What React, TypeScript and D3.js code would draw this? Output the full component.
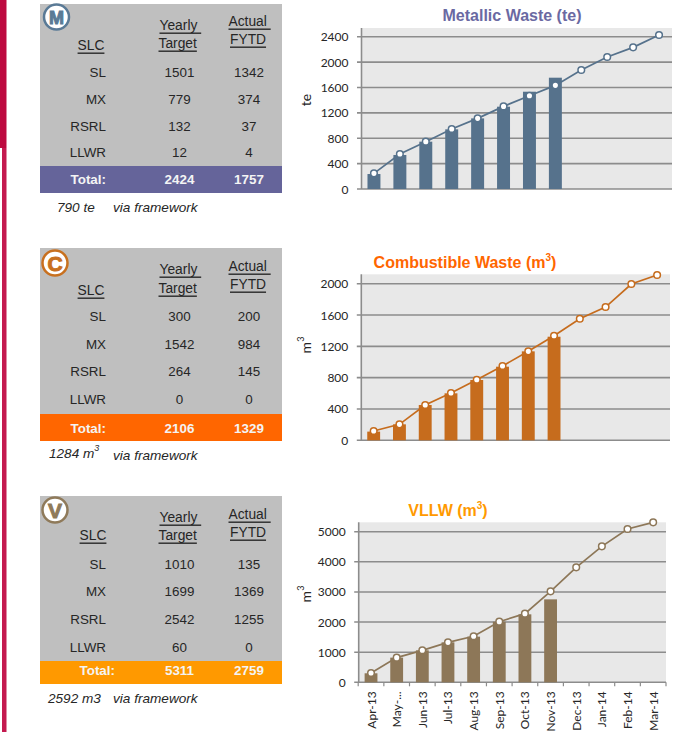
import React from "react";
import * as d3 from "d3";

const months = ["Apr-13","May-...","Jun-13","Jul-13","Aug-13","Sep-13","Oct-13","Nov-13","Dec-13","Jan-14","Feb-14","Mar-14"];
const slcNames = ["SL","MX","RSRL","LLWR"];

const metalTarget = [1501,779,132,12];
const metalActual = [1342,374,37,4];
const metalTotals = [2424,1757];
const metalBars = [236,536,746,940,1113,1297,1533,1754];
const metalLine = [247,551,746,945,1113,1302,1470,1633,1875,2080,2232,2426];
const metalTicks = [0,400,800,1200,1600,2000,2400];

const combTarget = [300,1542,264,0];
const combActual = [200,984,145,0];
const combTotals = [2106,1329];
const combBars = [111,204,451,600,770,940,1136,1323];
const combLine = [119,204,451,604,774,949,1136,1336,1553,1702,1996,2111];
const combTicks = [0,400,800,1200,1600,2000];

const vllwTarget = [1010,1699,2542,60];
const vllwActual = [135,1369,1255,0];
const vllwTotals = [5311,2759];
const vllwBars = [299,819,1062,1327,1515,2013,2257,2754];
const vllwLine = [310,819,1062,1327,1527,2013,2279,3020,3816,4513,5088,5310];
const vllwTicks = [0,1000,2000,3000,4000,5000];

const SANS = "'Liberation Sans', Arial, sans-serif";
const AXIS = "Lato, 'Noto Sans', sans-serif";
const TXT = "#262626";

type Tbl = {
  letter: string; iconColor: string; icon: [number, number];
  top: number; bottom: number; totalTop: number; totalColor: string;
  rowY: number[]; totalY: number; totalLabelX: number;
  yearlyY: number; targetY: number; actualY: number; fytdY: number; slcY: number; slcX: number;
  note: string; noteSup?: string; noteX: number; noteY: number;
  target: number[]; actual: number[]; totals: number[];
};
type Cht = {
  title: string; titleSup?: string; titleColor: string; titleX: number; titleY: number;
  unit: string; unitSup?: string; unitX: number; unitY: number;
  color: string; x0: number; x1: number; top: number; y0: number; yMaxPx: number; yMax: number;
  ticks: number[]; bars: number[]; line: number[]; showX?: boolean;
};

const tables: Tbl[] = [
  { letter:"M", iconColor:"#5a7a96", icon:[56.5,17], top:4, bottom:193, totalTop:166, totalColor:"#65649a",
    rowY:[72,99,126,152], totalY:179, totalLabelX:106, yearlyY:25, targetY:43, actualY:21, fytdY:39, slcY:45, slcX:91,
    note:"790 te", noteX:57, noteY:207, target:metalTarget, actual:metalActual, totals:metalTotals },
  { letter:"C", iconColor:"#c8701f", icon:[55,263], top:248, bottom:441, totalTop:414, totalColor:"#ff6600",
    rowY:[316,344,371,399], totalY:428, totalLabelX:106, yearlyY:269, targetY:288, actualY:266, fytdY:284, slcY:290, slcX:91,
    note:"1284 m", noteSup:"3", noteX:49, noteY:453, target:combTarget, actual:combActual, totals:combTotals },
  { letter:"V", iconColor:"#8f7a5a", icon:[55,510], top:496, bottom:684, totalTop:661, totalColor:"#ff9900",
    rowY:[564,591,619,647], totalY:670, totalLabelX:115, yearlyY:517, targetY:535, actualY:514, fytdY:532, slcY:535, slcX:93,
    note:"2592 m3", noteX:48, noteY:698, target:vllwTarget, actual:vllwActual, totals:vllwTotals },
];

const charts: Cht[] = [
  { title:"Metallic Waste (te)", titleColor:"#6a69a2", titleX:512, titleY:15, unit:"te", unitX:305, unitY:100,
    color:"#56728c", x0:361, x1:672, top:28, y0:189, yMaxPx:36.7, yMax:2400, ticks:metalTicks, bars:metalBars, line:metalLine },
  { title:"Combustible Waste (m", titleSup:"3", titleColor:"#ff6600", titleX:465, titleY:262, unit:"m", unitSup:"3", unitX:305, unitY:345,
    color:"#c66c1d", x0:360.8, x1:670, top:274.3, y0:440.3, yMaxPx:283.7, yMax:2000, ticks:combTicks, bars:combBars, line:combLine },
  { title:"VLLW (m", titleSup:"3", titleColor:"#ff9900", titleX:448, titleY:510, unit:"m", unitSup:"3", unitX:305, unitY:594,
    color:"#8d7758", x0:358.2, x1:666, top:522.3, y0:682.3, yMaxPx:531.7, yMax:5000, ticks:vllwTicks, bars:vllwBars, line:vllwLine, showX:true },
];

function Table({ t }: { t: Tbl }) {
  const cell = { fontFamily: SANS, fontSize: 13.4, fill: TXT, dominantBaseline: "central" as const };
  const head = { ...cell, fontSize: 13.8, textDecoration: "underline" };
  const colA = 179.5, colB = 249;
  return (
    <g>
      <rect x={40} y={t.top} width={242} height={t.bottom - t.top} fill="#bfbfbf" />
      <rect x={40} y={t.totalTop} width={242} height={t.bottom - t.totalTop} fill={t.totalColor} />
      <circle cx={t.icon[0]} cy={t.icon[1]} r={12.5} fill="#fff" stroke={t.iconColor} strokeWidth={2.5} />
      <text x={t.icon[0]} y={t.icon[1] + 0.5} textAnchor="middle" dominantBaseline="central" fontFamily={SANS}
        fontWeight={700} fontSize={t.letter === "M" ? 18 : 21} fill={t.iconColor} stroke={t.iconColor} strokeWidth={1}>{t.letter}</text>
      <text {...head} x={t.slcX} y={t.slcY} textAnchor="middle">SLC</text>
      <text {...head} x={159.5} y={t.yearlyY}>{"Yearly\u00a0"}</text>
      <text {...head} x={158.5} y={t.targetY}>Target</text>
      <text {...head} x={228.5} y={t.actualY}>{"Actual\u00a0"}</text>
      <text {...head} x={230} y={t.fytdY}>FYTD</text>
      {slcNames.map((n, i) => (
        <g key={n}>
          <text {...cell} x={106} y={t.rowY[i]} textAnchor="end">{n}</text>
          <text {...cell} x={colA} y={t.rowY[i]} textAnchor="middle">{t.target[i]}</text>
          <text {...cell} x={colB} y={t.rowY[i]} textAnchor="middle">{t.actual[i]}</text>
        </g>
      ))}
      <text {...cell} fontWeight={700} fill="#f4f4f4" x={t.totalLabelX} y={t.totalY} textAnchor="end">Total:</text>
      <text {...cell} fontWeight={700} fill="#f4f4f4" x={colA} y={t.totalY} textAnchor="middle">{t.totals[0]}</text>
      <text {...cell} fontWeight={700} fill="#f4f4f4" x={colB} y={t.totalY} textAnchor="middle">{t.totals[1]}</text>
      <text fontFamily={SANS} fontSize={13.6} fontStyle="italic" fill={TXT} x={t.noteX} y={t.noteY} dominantBaseline="central">
        {t.note}
        {t.noteSup ? <tspan dy={-5} fontSize={9}>{t.noteSup}</tspan> : null}
      </text>
      <text fontFamily={SANS} fontSize={13.6} fontStyle="italic" fill={TXT} x={113} y={t.letter === "C" ? t.noteY + 2 : t.noteY} dominantBaseline="central">via framework</text>
    </g>
  );
}

function Chart({ c }: { c: Cht }) {
  const x = d3.scaleBand<string>().domain(months).range([c.x0, c.x1]).paddingInner(0.5).paddingOuter(0.25);
  const y = d3.scaleLinear().domain([0, c.yMax]).range([c.y0, c.yMaxPx]);
  const step = x.step();
  const cx = (i: number) => (x(months[i]) as number) + x.bandwidth() / 2;
  const path = d3.line<number>().x((_, i) => cx(i)).y((v) => y(v))(c.line) as string;
  const grid = "#8c8c8c";
  return (
    <g>
      <text x={c.titleX} y={c.titleY} textAnchor="middle" dominantBaseline="central" fontFamily={SANS} fontWeight={700} fontSize={16} fill={c.titleColor}>
        {c.title}
        {c.titleSup ? <><tspan dy={-5} fontSize={10}>{c.titleSup}</tspan><tspan dy={5}>)</tspan></> : null}
      </text>
      <rect x={c.x0} y={c.top} width={c.x1 - c.x0} height={c.y0 - c.top} fill="#e8e8e8" />
      {c.ticks.map((t) => (
        <g key={t}>
          <line x1={c.x0 - 4} x2={c.x1} y1={y(t)} y2={y(t)} stroke={grid} strokeWidth={1.6} />
          <text x={c.x0 - 12.5} y={y(t)} textAnchor="end" dominantBaseline="central" fontFamily={AXIS} fontSize={12} fill={TXT}>{t}</text>
        </g>
      ))}
      <line x1={c.x0 + 0.5} x2={c.x0 + 0.5} y1={c.top} y2={c.y0} stroke={grid} strokeWidth={1.6} />
      <text transform={`translate(${c.unitX},${c.unitY}) rotate(-90)`} textAnchor="middle" dominantBaseline="central" fontFamily={AXIS} fontSize={14} fill={TXT}>
        {c.unit}
        {c.unitSup ? <tspan dy={-5} fontSize={9}>{c.unitSup}</tspan> : null}
      </text>
      {c.bars.map((v, i) => (
        <rect key={i} x={x(months[i])} y={y(v)} width={x.bandwidth()} height={c.y0 - y(v)} fill={c.color} />
      ))}
      <path d={path} fill="none" stroke={c.color} strokeWidth={1.7} />
      {c.line.map((v, i) => (
        <circle key={i} cx={cx(i)} cy={y(v)} r={3.3} fill="#fff" stroke={c.color} strokeWidth={1.5} />
      ))}
      {c.showX ? (
        <g>
          {d3.range(months.length + 1).map((i) => (
            <line key={i} x1={c.x0 + i * step} x2={c.x0 + i * step} y1={c.y0} y2={c.y0 + 4} stroke={grid} strokeWidth={1.2} />
          ))}
          {months.map((m, i) => (
            <text key={m} transform={`translate(${cx(i)},${c.y0 + 9}) rotate(-90)`} textAnchor="end" dominantBaseline="central"
              fontFamily={AXIS} fontSize={12} fill={TXT}>{m}</text>
          ))}
        </g>
      ) : null}
    </g>
  );
}

export default function App() {
  return (
    <svg width={697} height={732} style={{ position: "absolute", left: 0, top: 0, display: "block" }}>
      <rect width={697} height={732} fill="#fff" />
      <rect x={0} y={0} width={6.5} height={148} fill="#bd0a3f" />
      <rect x={2} y={148} width={4.5} height={584} fill="#c41a4f" />
      {tables.map((t) => <Table key={t.letter} t={t} />)}
      {charts.map((c) => <Chart key={c.title} c={c} />)}
    </svg>
  );
}
